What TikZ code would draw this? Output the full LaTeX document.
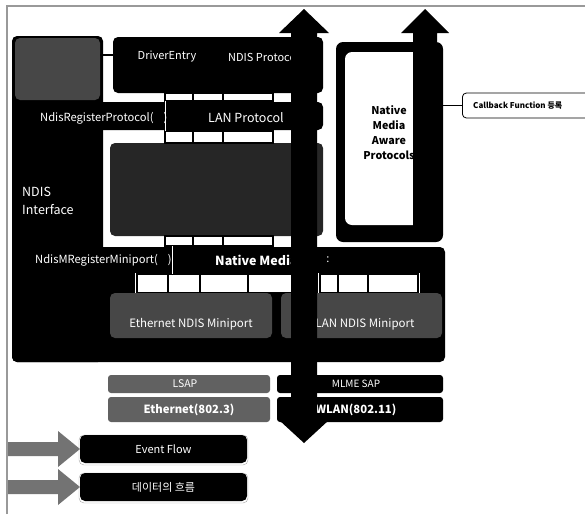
\documentclass[tikz,border=0pt]{standalone}
\usepackage{fontspec}
\setmainfont{Noto Sans CJK KR}
\tikzset{
  blk/.style={rectangle,rounded corners=5pt,fill=black,inner sep=0pt},
  dith/.style={blk,fill=black!72},
  lbl/.style={text=white,inner sep=0pt,font=\fontsize{11}{13}\selectfont},
  bld/.style={lbl,font=\fontsize{12.5}{14}\selectfont\bfseries},
  conn/.style={draw=black,line width=1.3pt},
  flow/.style={fill=black},
}
\begin{document}
\begin{tikzpicture}[x=1pt,y=-1pt]
\useasboundingbox (0,0) rectangle (585,514);
\draw[black!40,line width=1.2pt] (7,514) -- (7,6) -- (585,6);

% NDIS interface and housing
\node[blk,minimum width=91pt,minimum height=326pt] (ifc) at (57.5,199) {};
\node[blk,minimum width=433pt,minimum height=115pt] (house) at (228.5,304.5) {};
\node[blk,minimum width=311pt,minimum height=28pt] (lanbar) at (167.5,116) {};
\node[dith,minimum width=85pt,minimum height=62pt] (drvhead) at (57.5,69) {};
\node[blk,minimum width=210pt,minimum height=56pt] (proto) at (218,65) {};
\node[blk,fill=black!85,minimum width=213pt,minimum height=93pt] (lanimpl) at (216.5,189.5) {};

% native media aware protocols
\node[blk,rounded corners=7pt,minimum width=107pt,minimum height=200pt] (nma) at (389.5,142) {};
\node[blk,fill=white,rounded corners=7pt,minimum width=83pt,minimum height=173pt] (nmain) at (386.5,138.5) {};
\node[align=center,inner sep=0pt,font=\fontsize{10.7}{15}\selectfont\bfseries] (nmatext) at (389,133)
  {Native\\Media\\Aware\\Protocols};

% connector gaps
\fill[white] (135,273) rectangle (292,293);
\fill[white] (318,273) rectangle (420,293);
\foreach \ya/\yb in {93/101,131/143,236/246}
  \foreach \xa/\xb in {165/193,193/223,223/273}
    \draw[conn,fill=white] (\xa,\ya) rectangle (\xb,\yb);
\foreach \xa/\xb in {137/168,168/200,200/248,248/292,320/338,338/368,368/418}
  \draw[conn,fill=white] (\xa,274) rectangle (\xb,293);
\draw[white,line width=0.6pt] (165,101) -- (165,131);
\draw[white,line width=0.6pt] (172,246) -- (172,274);

% miniports and media
\node[dith,minimum width=162pt,minimum height=45pt] (ethmp) at (191,315.5) {};
\node[dith,minimum width=161pt,minimum height=45pt] (wlanmp) at (361.5,315.5) {};
\node[dith,rounded corners=3pt,fill=black!62,minimum width=162pt,minimum height=18pt] (lsap) at (189,384) {};
\node[blk,rounded corners=3pt,minimum width=166pt,minimum height=18pt] (mlme) at (360,384) {};
\node[dith,rounded corners=3pt,fill=black!62,minimum width=162pt,minimum height=25pt] (eth3) at (189,409.5) {};
\node[blk,rounded corners=3pt,minimum width=166pt,minimum height=25pt] (wlan11) at (360,409.5) {};

% labels
\node[lbl,align=left,anchor=west,font=\fontsize{12.5}{18}\selectfont] (ifclbl) at (22,201) {NDIS\\Interface};
\node[lbl] (drvlbl) at (167,57) {DriverEntry};
\node[lbl,anchor=west] (protolbl) at (228,57) {NDIS Protocol};
\node[lbl,anchor=west,font=\fontsize{11.2}{13}\selectfont] (reglbl) at (40,118) {NdisRegisterProtocol(\hspace{10pt})};
\node[lbl,anchor=west,font=\fontsize{12.5}{14}\selectfont] (lanlbl) at (208,118) {LAN Protocol};
\node[lbl,anchor=west,font=\fontsize{11.2}{13}\selectfont] (mreglbl) at (35,260) {NdisMRegisterMiniport(\hspace{10pt})};
\node[bld,anchor=west] (nmlbl) at (215,260) {Native Media};
\node[lbl] (colon) at (328,260) {:};
\node[lbl,font=\fontsize{11.5}{13}\selectfont] (ethmplbl) at (191,324) {Ethernet NDIS Miniport};
\node[lbl,font=\fontsize{11.5}{13}\selectfont] (wlanmplbl) at (360,324) {WLAN NDIS Miniport};
\node[lbl,font=\fontsize{10.5}{12}\selectfont] (lsaplbl) at (185,384) {LSAP};
\node[lbl,font=\fontsize{10}{12}\selectfont] (mlmelbl) at (356,384) {MLME SAP};
\node[bld,font=\fontsize{11.3}{13}\selectfont\bfseries] (eth3lbl) at (189,410) {Ethernet(802.3)};
\node[bld,font=\fontsize{11.3}{13}\selectfont\bfseries] (wlan11lbl) at (356,410) {WLAN(802.11)};

% callback
\node[draw=black,line width=0.8pt,fill=white,rounded corners=4pt,anchor=west,
  minimum width=130pt,minimum height=25pt,inner sep=0pt] (cb) at (462,105.5) {};
\node[anchor=west,inner sep=0pt,font=\fontsize{8}{9}\selectfont\bfseries] (cblbl) at (473,105.5)
  {Callback Function 등록};
\draw[conn] ([yshift=10pt]proto.west) -- ([yshift=10pt]proto.west -| drvhead.east);
\draw[conn] (cb.west -| nma.east) -- (cb.west);

% event and data flow
\path[flow] (425,9) -- (449,33) -- (437,33) -- (437,240) -- (413,240) -- (413,33) -- (401,33) -- cycle;
\path[flow] (304,9) -- (329,33) -- (317,33) -- (317,420) -- (329,420) -- (304,443)
  -- (279,420) -- (291,420) -- (291,33) -- (279,33) -- cycle;

% legend
\foreach \y/\name/\txt in {449/evt/Event Flow,487/dat/데이터의 흐름}{
  \fill[black!55] (8,\y-7) -- (58,\y-7) -- (58,\y-18) -- (80,\y) -- (58,\y+18) -- (58,\y+7) -- (8,\y+7) -- cycle;
  \draw[black!35,rounded corners=5pt] (79,\y-14) rectangle (248,\y+16);
  \node[blk,minimum width=167pt,minimum height=28pt,text=white,font=\fontsize{11}{13}\selectfont] (\name) at (163.5,\y) {\txt};
}
\end{tikzpicture}
\end{document}
